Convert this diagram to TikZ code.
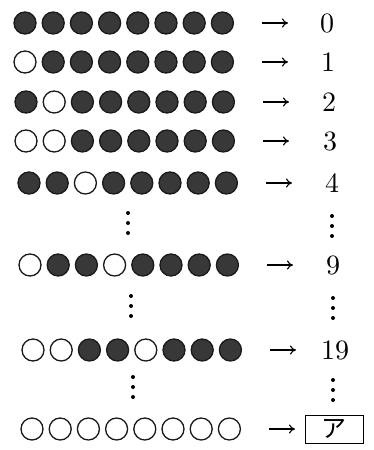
\documentclass[tikz,border=0pt]{standalone}
\usepackage{fontspec}
\newfontfamily\jpfont{Noto Sans CJK JP}
\usepackage{graphicx}
\usepackage{tikz}
\usetikzlibrary{arrows.meta,positioning}
\newcommand{\bignum}[1]{\scalebox{2.8}{#1}}

\begin{document}
\begin{tikzpicture}[x=1pt,y=-1pt,
          bit1/.style={circle, draw=black!90, line width=1.3pt, fill=black!78,
                       minimum size=22pt, inner sep=0pt},
          bit0/.style={bit1, fill=white},
          num/.style={inner sep=0pt},
          ans/.style={draw, line width=1pt, minimum width=58pt, minimum height=28pt,
                      inner sep=0pt, font=\jpfont\fontsize{25}{25}\selectfont},
          arr/.style={-{To[length=6pt,width=9pt]}, line width=1.1pt},
          dot/.style={circle, fill=black, inner sep=0pt, minimum size=4pt}]
        \useasboundingbox (0,0) rectangle (374,450);
        % rows of bits, value on the right
        \foreach \y/\xo/\pat/\val/\vx/\vst [count=\r] in {
            23/25/{1,1,1,1,1,1,1,1}/\bignum{0}/327/num,
            62/25/{0,1,1,1,1,1,1,1}/\bignum{1}/328/num,
            102/26/{1,0,1,1,1,1,1,1}/\bignum{2}/329/num,
            141/26/{0,0,1,1,1,1,1,1}/\bignum{3}/330/num,
            183/29/{1,1,0,1,1,1,1,1}/\bignum{4}/332/num,
            265/30/{0,1,1,0,1,1,1,1}/\bignum{9}/333/num,
            350/33/{0,0,1,1,0,1,1,1}/\bignum{19}/335/num,
            429/32/{0,0,0,0,0,0,0,0}/ア/334/ans}{
          \foreach \b [count=\i] in \pat {
            \node[bit\b] (c\r-\i) at ({\xo+(\i-1)*28.2},\y) {};
          }
          \node[\vst] (v\r) at (\vx,\y) {\val};
          \coordinate (s\r) at (\xo+237,\y);
          \coordinate (e\r) at (\xo+263,\y);
          \draw[arr] (s\r) -- (e\r);
        }
        % vertical dots
        \foreach \x/\y [count=\k] in {128/213, 332/216, 131/296, 333/298, 133/377, 333/380}{
          \node[dot] (d\k a) at (\x,\y) {};
          \node[dot] (d\k b) at (\x,\y+10) {};
          \node[dot] (d\k c) at (\x,\y+20) {};
        }
\end{tikzpicture}
\end{document}
